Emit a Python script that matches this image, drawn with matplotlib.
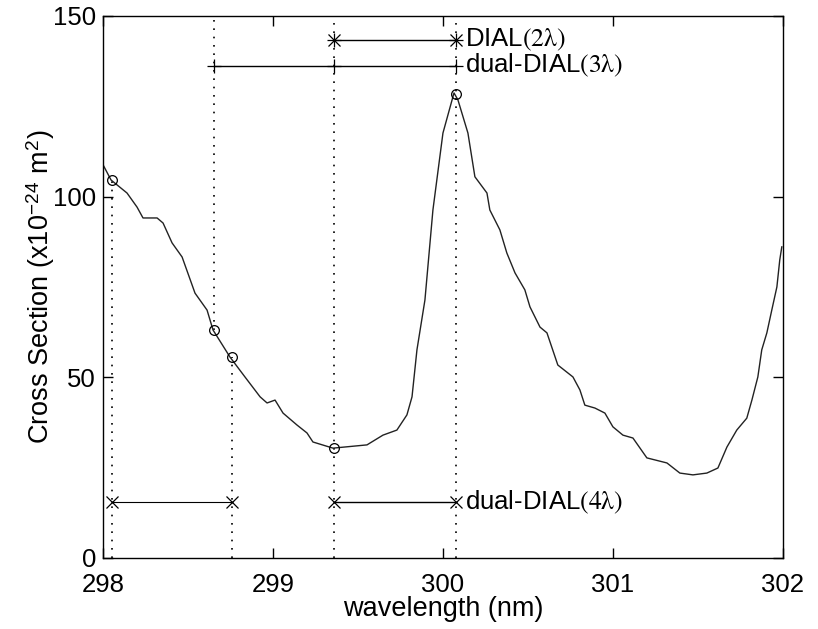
import matplotlib.pyplot as plt

plt.rcParams['font.family'] = ['Liberation Sans', 'DejaVu Sans']
plt.rcParams['mathtext.fontset'] = 'stix'

# absorption cross section
wavelength = [298.0, 298.047, 298.141, 298.2, 298.235, 298.318, 298.353, 298.406,
              298.465, 298.541, 298.612, 298.647, 298.747, 298.835, 298.924, 298.965,
              299.012, 299.059, 299.141, 299.2, 299.235, 299.353, 299.553, 299.647,
              299.729, 299.788, 299.818, 299.847, 299.894, 299.941, 300.0, 300.065,
              300.088, 300.147, 300.188, 300.259, 300.276, 300.335, 300.376, 300.424,
              300.482, 300.512, 300.571, 300.612, 300.676, 300.765, 300.806, 300.835,
              300.894, 300.953, 301.0, 301.059, 301.118, 301.2, 301.318, 301.394,
              301.471, 301.553, 301.618, 301.671, 301.729, 301.788, 301.818, 301.853,
              301.876, 301.906, 301.935, 301.965, 301.982, 301.994]
crossSection = [108.8, 104.6, 101.0, 97.1, 94.1, 94.1, 92.7, 87.2,
                83.3, 73.3, 68.6, 63.1, 55.6, 50.1, 44.6, 42.9,
                43.7, 40.1, 36.8, 34.6, 32.1, 30.4, 31.3, 34.0,
                35.4, 39.6, 44.6, 57.6, 71.4, 96.3, 117.6, 128.7,
                126.8, 117.6, 105.5, 101.0, 96.3, 90.8, 84.4, 78.9,
                74.2, 69.5, 63.9, 62.3, 53.4, 50.1, 46.5, 42.3,
                41.5, 40.1, 36.3, 34.0, 33.2, 27.7, 26.3, 23.5,
                23.0, 23.5, 24.9, 30.7, 35.4, 38.7, 43.7, 50.1,
                57.6, 62.3, 68.6, 75.0, 82.5, 86.1]

# selected wavelengths (circles)
selWl = [298.05, 298.655, 298.757, 299.36, 300.075]
selCs = [104.6, 63.0, 55.5, 30.4, 128.5]

# schemes
dial2Wl = [299.36, 300.075]
dial2Y = 143.4
dual3Wl = [298.655, 299.36, 300.075]
dual3Y = 136.2
dual4PairA = [298.05, 298.757]
dual4PairB = [299.36, 300.075]
dual4Y = 15.5

# vertical dotted guides: (wavelength, from, to)
guides = [(298.05, 0, 104.6), (298.655, 63.0, 150), (298.757, 0, 55.5),
          (299.36, 0, 150), (300.075, 0, 150)]

fig = plt.figure(figsize=(8.18, 6.29), dpi=100)
ax = fig.add_axes([0.126, 0.1129, 0.831, 0.8617])

for x, y0, y1 in guides:
  ax.plot([x, x], [y0, y1], color='black', lw=1.2, linestyle=(0, (1, 4)))

ax.plot(wavelength, crossSection, color='#222222', lw=1.0)
ax.plot(selWl, selCs, 'o', mfc='none', mec='black', ms=7, mew=0.9)

# asterisk = plus + cross
ax.plot(dial2Wl, [dial2Y] * 2, '-+', color='black', lw=1.0, ms=10, mew=0.9)
ax.plot(dial2Wl, [dial2Y] * 2, 'x', color='black', ms=8, mew=0.9)
ax.plot(dual3Wl, [dual3Y] * 3, '-+', color='black', lw=1.0, ms=10, mew=0.9)
ax.plot(dual4PairA, [dual4Y] * 2, '-x', color='black', lw=0.8, ms=8, mew=0.9)
ax.plot(dual4PairB, [dual4Y] * 2, '-x', color='black', lw=1.0, ms=8, mew=0.9)

txtX = 300.13
ax.text(txtX, dial2Y, r'DIAL$\mathrm{(2\lambda)}$', fontsize=18.5, va='center', ha='left')
ax.text(txtX, dual3Y, r'dual-DIAL$\mathrm{(3\lambda)}$', fontsize=18.5, va='center', ha='left')
ax.text(txtX, dual4Y, r'dual-DIAL$\mathrm{(4\lambda)}$', fontsize=18.5, va='center', ha='left')

ax.set_xlim(298, 302)
ax.set_ylim(0, 150)
ax.set_xticks([298, 299, 300, 301, 302])
ax.set_yticks([0, 50, 100, 150])
ax.tick_params(direction='in', length=7, width=1, top=True, right=True, labelsize=18.5)
ax.tick_params(axis='x', pad=11)
ax.tick_params(axis='y', pad=5)
for s in ax.spines.values():
  s.set_linewidth(1.0)

ax.set_xlabel('wavelength (nm)', fontsize=19.5, labelpad=-1)
ax.set_ylabel(r'Cross Section (x10$^{\mathregular{-24}}$ m$^{\mathregular{2}}$)', fontsize=19.5, labelpad=-3)

plt.savefig('out.png', dpi=100)
